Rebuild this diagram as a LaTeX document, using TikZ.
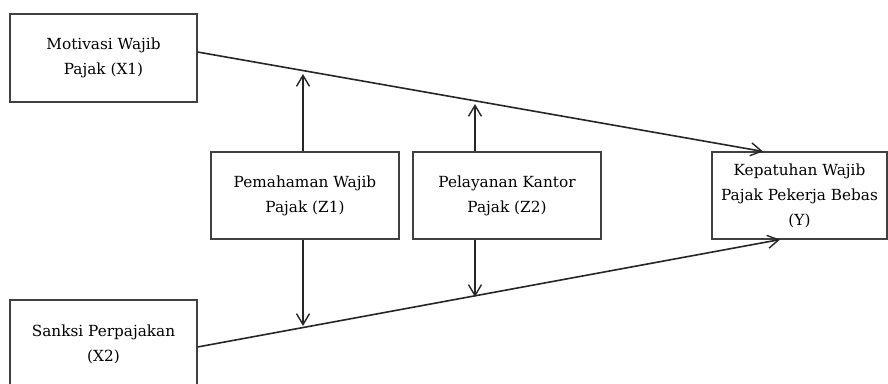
\documentclass[tikz,border=0pt]{standalone}
\usepackage{fontspec}
\setmainfont{DejaVu Serif}
\usetikzlibrary{arrows.meta}
\begin{document}
\begin{tikzpicture}[x=1pt,y=-1pt,
  varbox/.style={draw=black!75, line width=1.1pt, align=center, inner sep=0pt,
                 font=\fontsize{15.3}{25}\selectfont},
  link/.style={draw=black!85, line width=1.6pt,
               -{Straight Barb[length=11pt,width=13pt,line width=1.4pt]}}]
\useasboundingbox (0,0) rectangle (888,383);
\clip (0,0) rectangle (888,383);

% variables
\node[varbox, minimum width=187pt, minimum height=88pt] (X1) at (103.5,58)
  {Motivasi Wajib\\Pajak (X1)};
\node[varbox, minimum width=187pt, minimum height=88pt] (X2) at (103.5,344)
  {Sanksi Perpajakan\\(X2)};
\node[varbox, minimum width=188pt, minimum height=87pt] (Z1) at (305,195.5)
  {Pemahaman Wajib\\Pajak (Z1)};
\node[varbox, minimum width=188pt, minimum height=87pt] (Z2) at (507,195.5)
  {Pelayanan Kantor\\Pajak (Z2)};
\node[varbox, minimum width=175pt, minimum height=87pt] (Y) at (799.5,195.5)
  {Kepatuhan Wajib\\Pajak Pekerja Bebas\\(Y)};

% direct effects
\draw[link] ([yshift=6pt]X1.east) -- ([xshift=-36.5pt]Y.north);
\draw[link] ([yshift=-3pt]X2.east) -- ([xshift=-19.5pt]Y.south);

% moderating effects
\coordinate (u1) at ([xshift=-2pt]Z1.north |- 0,74);
\coordinate (d1) at ([xshift=-2pt]Z1.south |- 0,326);
\coordinate (u2) at ([xshift=-32pt]Z2.north |- 0,104);
\coordinate (d2) at ([xshift=-32pt]Z2.south |- 0,297);
\draw[link] ([xshift=-2pt]Z1.north) -- (u1);
\draw[link] ([xshift=-2pt]Z1.south) -- (d1);
\draw[link] ([xshift=-32pt]Z2.north) -- (u2);
\draw[link] ([xshift=-32pt]Z2.south) -- (d2);
\end{tikzpicture}
\end{document}
